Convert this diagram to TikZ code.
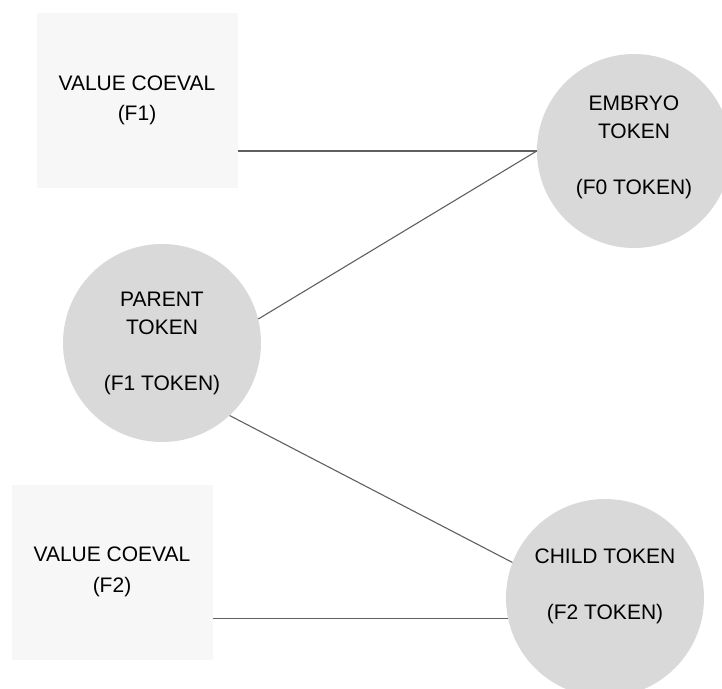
\documentclass[tikz,border=0pt]{standalone}
\usepackage{fontspec}
\setmainfont{Liberation Sans}
\definecolor{boxgray}{HTML}{F7F7F7}
\definecolor{tokengray}{HTML}{D9D9D9}
\definecolor{linegray}{HTML}{606060}
\begin{document}
\begin{tikzpicture}[x=1pt,y=-1pt,
  every node/.style={font=\fontsize{21}{28}\selectfont, align=center, inner sep=0pt, text=black},
  coevalbox/.style={rectangle, fill=boxgray, minimum width=201pt, minimum height=175pt},
  token/.style={circle, fill=tokengray, minimum size=198pt},
  link/.style={draw=linegray, line width=1.1pt}]
\clip (0,0) rectangle (722,688);
\fill[white] (0,0) rectangle (722,688);
% value coeval boxes
\node[coevalbox] (b1) at (137,100.5) {VALUE COEVAL\\[2pt](F1)};
\node[coevalbox] (b2) at (112,572) {VALUE COEVAL\\[3pt](F2)};
% tokens
\node[token, minimum size=194pt] (e) at (634,151) {EMBRYO\\TOKEN\\[28pt](F0 TOKEN)\\[-16pt]\mbox{}};
\node[token] (p) at (162,343) {PARENT\\TOKEN\\[28pt](F1 TOKEN)};
\node[token] (c) at (605,598) {CHILD TOKEN\\[28pt](F2 TOKEN)\\\mbox{}};
% connectors
\draw[link] (b1.east |- e.west) -- (e.west);
\draw[link] (p.14) -- (e.west);
\draw[link] (p.-47) -- (c.159);
\draw[link] (b2.east |- c.192) -- (c.192);
\end{tikzpicture}
\end{document}
